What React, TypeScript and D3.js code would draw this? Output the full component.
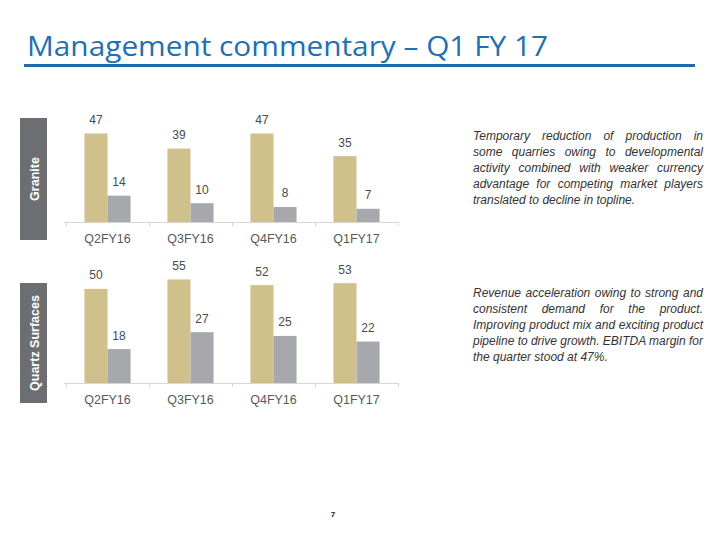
import React, { useEffect, useRef } from 'react';
import * as d3 from 'd3';

const quarters = ['Q2FY16', 'Q3FY16', 'Q4FY16', 'Q1FY17'];
const graniteRevenue = [47, 39, 47, 35];
const graniteEbitda = [14, 10, 8, 7];
const quartzRevenue = [50, 55, 52, 53];
const quartzEbitda = [18, 27, 25, 22];

const graniteNote = [
  'Temporary reduction of production in',
  'some quarries owing to developmental',
  'activity combined with weaker currency',
  'advantage for competing market players',
  'translated to decline in topline.',
];
const quartzNote = [
  'Revenue acceleration owing to strong and',
  'consistent demand for the product.',
  'Improving product mix and exciting product',
  'pipeline to drive growth. EBITDA margin for',
  'the quarter stood at 47%.',
];

const GOLD = '#d0c08c';
const GREY = '#a7a8ab';

const App = () => {
  const svgRef = useRef<SVGSVGElement>(null);

  useEffect(() => {
    document.body.style.margin = '0';
    const svg = d3.select(svgRef.current);
    svg.selectAll('*').remove();

    // Title
    svg.append('text')
      .attr('x', 27)
      .attr('y', 56)
      .attr('font-family', 'Open Sans, sans-serif')
      .attr('font-size', 27)
      .attr('fill', '#2170b0')
      .attr('textLength', 521)
      .attr('lengthAdjust', 'spacingAndGlyphs')
      .text('Management commentary – Q1 FY 17');

    svg.append('rect')
      .attr('x', 24).attr('y', 64)
      .attr('width', 671).attr('height', 3)
      .attr('fill', '#1f6aa8');

    const x = d3.scaleBand().domain(quarters).range([66, 398]);
    const x1 = d3.scaleBand().domain(['rev', 'ebitda'])
      .range([0, x.bandwidth()]).paddingOuter(0.8);
    const h = d3.scaleLinear().domain([0, 47]).range([0, 88.5]);

    const panels = [
      { name: 'Granite', rev: graniteRevenue, ebitda: graniteEbitda, base: 222, box: [118, 240], note: graniteNote, noteY: 140 },
      { name: 'Quartz Surfaces', rev: quartzRevenue, ebitda: quartzEbitda, base: 383, box: [283, 403], note: quartzNote, noteY: 297 },
    ];

    panels.forEach(p => {
      const g = svg.append('g');

      // side label
      g.append('rect')
        .attr('x', 20).attr('y', p.box[0])
        .attr('width', 27).attr('height', p.box[1] - p.box[0])
        .attr('fill', '#6d6e71');
      const cy = (p.box[0] + p.box[1]) / 2;
      g.append('text')
        .attr('transform', `translate(38.5,${cy}) rotate(-90)`)
        .attr('text-anchor', 'middle')
        .attr('font-family', 'Liberation Sans, Arial, sans-serif')
        .attr('font-weight', 'bold')
        .attr('font-size', 12.5)
        .attr('fill', '#fff')
        .text(p.name);

      // axis line + ticks
      g.append('line')
        .attr('x1', 64).attr('x2', 398)
        .attr('y1', p.base + 0.5).attr('y2', p.base + 0.5)
        .attr('stroke', '#d6d6d6');
      const edges = quarters.map(q => x(q) as number).concat([x.range()[1]]);
      g.selectAll('.tick')
        .data(edges)
        .enter().append('line')
        .attr('x1', d => d + 0.5).attr('x2', d => d + 0.5)
        .attr('y1', p.base).attr('y2', p.base + 4)
        .attr('stroke', '#d6d6d6');

      const rows = quarters.map((q, i) => ({ q, rev: p.rev[i], ebitda: p.ebitda[i] }));
      const series: [string, string][] = [['rev', GOLD], ['ebitda', GREY]];

      series.forEach(([key, color]) => {
        g.selectAll(`.bar-${key}`)
          .data(rows)
          .enter().append('rect')
          .attr('x', d => (x(d.q) as number) + (x1(key) as number))
          .attr('y', d => p.base - h((d as any)[key]))
          .attr('width', x1.bandwidth())
          .attr('height', d => h((d as any)[key]))
          .attr('fill', color);

        g.selectAll(`.val-${key}`)
          .data(rows)
          .enter().append('text')
          .attr('x', d => (x(d.q) as number) + (x1(key) as number) + x1.bandwidth() / 2)
          .attr('y', d => p.base - h((d as any)[key]) - 9.5)
          .attr('text-anchor', 'middle')
          .attr('font-family', 'Liberation Sans, Arial, sans-serif')
          .attr('font-size', 12)
          .attr('fill', '#4a4a4a')
          .text(d => (d as any)[key]);
      });

      g.selectAll('.cat')
        .data(quarters)
        .enter().append('text')
        .attr('x', d => (x(d) as number) + x.bandwidth() / 2)
        .attr('y', p.base + 21)
        .attr('text-anchor', 'middle')
        .attr('font-family', 'Liberation Sans, Arial, sans-serif')
        .attr('font-size', 12.5)
        .attr('fill', '#595959')
        .text(d => d);

      // justified commentary
      const left = 473, width = 230, lineH = 16;
      p.note.forEach((ln, i) => {
        const t = g.append('text')
          .attr('x', left)
          .attr('y', p.noteY + i * lineH)
          .attr('font-family', 'Liberation Sans, Arial, sans-serif')
          .attr('font-style', 'italic')
          .attr('font-size', 12)
          .attr('fill', '#333')
          .text(ln);
        const nWords = ln.split(' ').length;
        if (i < p.note.length - 1 && nWords > 1) {
          const natural = (t.node() as SVGTextElement).getComputedTextLength();
          t.style('word-spacing', `${(width - natural) / (nWords - 1)}px`);
        }
      });
    });

    svg.append('text')
      .attr('x', 333)
      .attr('y', 517)
      .attr('text-anchor', 'middle')
      .attr('font-family', 'Liberation Sans, Arial, sans-serif')
      .attr('font-weight', 'bold')
      .attr('font-size', 8)
      .attr('fill', '#222')
      .text('7');
  }, []);

  return <svg ref={svgRef} width={720} height={540} style={{ display: 'block', background: '#fff' }} />;
};

export default App;
